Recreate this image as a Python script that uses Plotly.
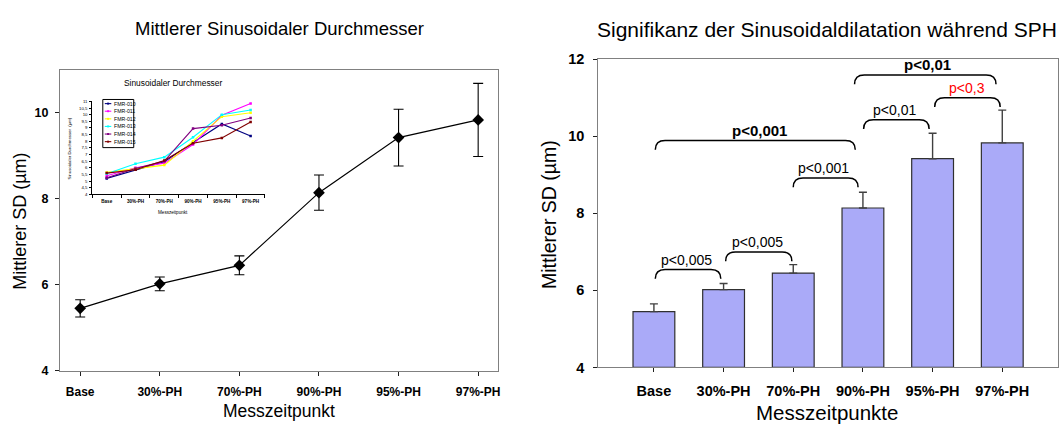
import plotly.graph_objects as go

W, H = 1063, 431
FONT = "Liberation Sans"

# ---- data ----
categories = ["Base", "30%-PH", "70%-PH", "90%-PH", "95%-PH", "97%-PH"]
mean_sd = [5.45, 6.02, 6.45, 8.14, 9.42, 9.83]
sd_err = [0.20, 0.16, 0.22, 0.41, 0.66, 0.85]

fmr_names = ["FMR-010", "FMR-011", "FMR-012", "FMR-013", "FMR-014", "FMR-015"]
fmr_010 = [5.20, 5.85, 6.45, 7.90, 9.30, 8.40]
fmr_011 = [5.40, 6.00, 6.35, 7.75, 9.95, 10.85]
fmr_012 = [5.65, 5.95, 6.20, 8.00, 9.85, 10.15]
fmr_013 = [5.55, 6.30, 6.80, 8.30, 10.00, 10.35]
fmr_014 = [5.25, 5.95, 6.50, 8.95, 9.20, 9.75]
fmr_015 = [5.60, 5.85, 6.55, 7.85, 8.25, 9.45]
fmr_series = [fmr_010, fmr_011, fmr_012, fmr_013, fmr_014, fmr_015]
fmr_colors = ["#000080", "#ff00ff", "#ffff00", "#00ffff", "#800080", "#800000"]

inset_yticks = [4, 4.5, 5, 5.5, 6, 6.5, 7, 7.5, 8, 8.5, 9, 9.5, 10, 10.5, 11]

# significance brackets: (left idx, right idx, top value, label x, text, bold, colour)
brackets = [
    (0.02, 0.96, 6.54, 0.47, "p<0,005", False, "black"),
    (1.03, 1.98, 7.00, 1.48, "p<0,005", False, "black"),
    (2.00, 2.93, 8.92, 2.44, "p<0,001", False, "black"),
    (0.02, 2.89, 9.89, 1.52, "p<0,001", True, "black"),
    (3.01, 3.95, 10.43, 3.46, "p<0,01", False, "black"),
    (4.03, 4.97, 11.00, 4.49, "p<0,3", False, "red"),
    (2.88, 4.91, 11.59, 3.93, "p<0,01", True, "black"),
]


def px(x):
    return x / W


def py(y):
    return 1 - y / H


idx = list(range(len(categories)))
fig = go.Figure()

# ---- left: mean line with error bars ----
fig.add_trace(go.Scatter(
    x=idx, y=mean_sd, mode="lines+markers", xaxis="x", yaxis="y",
    line=dict(color="black", width=1.2),
    marker=dict(symbol="diamond", size=9, color="black"),
    error_y=dict(type="data", array=sd_err, color="black", thickness=1.1, width=5),
    showlegend=False,
))

# ---- right: bars with one-sided error ----
fig.add_trace(go.Bar(
    x=idx, y=[v - 4 for v in mean_sd], base=4, xaxis="x2", yaxis="y2", width=0.6,
    marker=dict(color="#aaaaf8", line=dict(color="#303030", width=1.2)),
    error_y=dict(type="data", array=sd_err, arrayminus=[0] * len(sd_err), symmetric=False,
                 color="#404040", thickness=1.4, width=4),
    showlegend=False,
))

# ---- inset: individual series ----
for name, vals, col in zip(fmr_names, fmr_series, fmr_colors):
    fig.add_trace(go.Scatter(
        x=categories, y=vals, mode="lines+markers", name=name, xaxis="x3", yaxis="y3",
        line=dict(color=col, width=1.1), marker=dict(symbol="square", size=2.5, color=col),
        showlegend=False,
    ))

frame = dict(showline=True, linecolor="#808080", linewidth=1, mirror=True, showgrid=False,
             zeroline=False, ticks="outside", ticklen=4, tickcolor="#202020")

fig.update_layout(
    width=W, height=H, autosize=False,
    margin=dict(l=0, r=0, t=0, b=0),
    paper_bgcolor="white", plot_bgcolor="white",
    font=dict(family=FONT, color="black"),
    bargap=0.4,
    xaxis=dict(domain=[px(60), px(499)], range=[-0.255, 5.25], tickvals=idx, ticktext=categories,
               tickfont=dict(size=12, weight="bold"), ticklabelstandoff=6, **frame),
    yaxis=dict(domain=[py(376.7), py(64)], range=[4, 11], tickvals=[4, 6, 8, 10],
               tickfont=dict(size=12.5, weight="bold"), ticklabelstandoff=4, **frame),
    xaxis2=dict(domain=[px(599.3), px(1060)], range=[-0.8, 5.8], tickvals=idx, ticktext=categories,
                tickfont=dict(size=14.5, weight="bold"), ticklabelstandoff=6, anchor="y2", **frame),
    yaxis2=dict(domain=[py(373.3), py(53.3)], range=[4, 12], tickvals=[4, 6, 8, 10, 12],
                tickfont=dict(size=14.5, weight="bold"), ticklabelstandoff=6, anchor="x2", **frame),
    xaxis3=dict(domain=[px(92.5), px(265.5)], type="category", range=[-0.5, 5.5], anchor="y3",
                tickson="boundaries", ticks="outside", ticklen=3, tickcolor="black",
                showline=True, linecolor="black", linewidth=1, showgrid=False, zeroline=False,
                tickfont=dict(size=4.6, weight="bold"), ticklabelstandoff=2),
    yaxis3=dict(domain=[py(193.5), py(97)], range=[4, 11], anchor="x3",
                tickvals=inset_yticks, ticktext=[f"{v:g}".replace(".", ",") for v in inset_yticks],
                ticks="outside", ticklen=2, tickcolor="black",
                showline=True, linecolor="black", linewidth=1, showgrid=False, zeroline=False,
                tickfont=dict(size=4.3), ticklabelstandoff=1),
)

ann = []
shapes = []

# titles
ann.append(dict(text="Mittlerer Sinusoidaler Durchmesser", x=px(280), y=py(21), xref="paper", yref="paper",
                showarrow=False, font=dict(size=18.5), xanchor="center", yanchor="middle"))
ann.append(dict(text="Signifikanz der Sinusoidaldilatation während SPH", x=px(829), y=py(22),
                xref="paper", yref="paper", showarrow=False, font=dict(size=21),
                xanchor="center", yanchor="middle"))
# axis titles
ann.append(dict(text="Mittlerer SD (µm)", x=px(20), y=py(221), xref="paper", yref="paper", textangle=-90,
                showarrow=False, font=dict(size=18), xanchor="center", yanchor="middle"))
ann.append(dict(text="Messzeitpunkt", x=px(280), y=py(419), xref="paper", yref="paper",
                showarrow=False, font=dict(size=17.5), xanchor="center", yanchor="middle"))
ann.append(dict(text="Mittlerer SD (µm)", x=px(550), y=py(214), xref="paper", yref="paper", textangle=-90,
                showarrow=False, font=dict(size=19.5), xanchor="center", yanchor="middle"))
ann.append(dict(text="Messzeitpunkte", x=px(829), y=py(420), xref="paper", yref="paper",
                showarrow=False, font=dict(size=20.5), xanchor="center", yanchor="middle"))

# inset texts
ann.append(dict(text="Sinusoidaler Durchmesser", x=px(173), y=py(78), xref="paper", yref="paper",
                showarrow=False, font=dict(size=8.4), xanchor="center", yanchor="middle"))
ann.append(dict(text="Sinusoidaler Durchmesser  (µm)", x=px(70), y=py(146), xref="paper", yref="paper",
                textangle=-90, showarrow=False, font=dict(size=4.3), xanchor="center", yanchor="middle"))
ann.append(dict(text="Messzeitpunkt", x=px(173), y=py(212), xref="paper", yref="paper",
                showarrow=False, font=dict(size=4.6), xanchor="center", yanchor="middle"))

# inset legend
shapes.append(dict(type="rect", xref="paper", yref="paper", x0=px(103), x1=px(134), y0=py(145), y1=py(95),
                   line=dict(color="black", width=1), fillcolor="white", layer="above"))
for k, (name, col) in enumerate(zip(fmr_names, fmr_colors)):
    yy = 99.3 + 7.9 * k
    shapes.append(dict(type="line", xref="paper", yref="paper", x0=px(105), x1=px(111.5), y0=py(yy), y1=py(yy),
                       line=dict(color=col, width=1.1), layer="above"))
    shapes.append(dict(type="rect", xref="paper", yref="paper", x0=px(107.3), x1=px(109.3),
                       y0=py(yy + 1), y1=py(yy - 1), line=dict(width=0), fillcolor=col, layer="above"))
    ann.append(dict(text=name, x=px(112), y=py(yy), xref="paper", yref="paper", showarrow=False,
                    font=dict(size=5.2), xanchor="left", yanchor="middle"))

# significance brackets
for x0, x1, ytop, lx, text, bold, col in brackets:
    dx, drop = 0.14, 0.24
    path = (f"M {x0},{ytop - drop} Q {x0},{ytop} {x0 + dx},{ytop} "
            f"L {x1 - dx},{ytop} Q {x1},{ytop} {x1},{ytop - drop}")
    shapes.append(dict(type="path", xref="x2", yref="y2", path=path, line=dict(color="black", width=1.5)))
    ann.append(dict(text=text, x=lx, y=ytop, xref="x2", yref="y2", showarrow=False, yanchor="bottom",
                    yshift=0, font=dict(size=15 if bold else 14, color=col, weight="bold" if bold else "normal")))

fig.update_layout(annotations=ann, shapes=shapes)
fig.write_html("out.html")
